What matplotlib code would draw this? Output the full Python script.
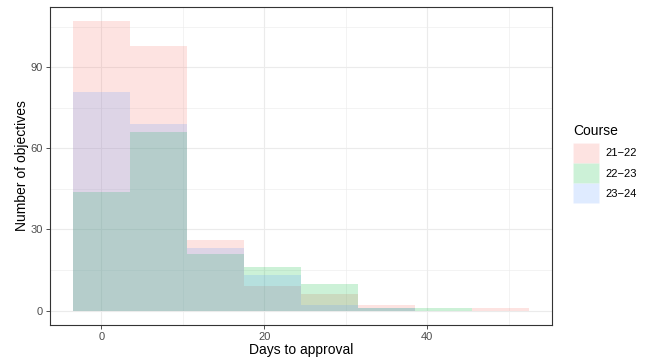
import matplotlib
matplotlib.use("Agg")
import matplotlib.pyplot as plt
from matplotlib.patches import Patch

plt.rcParams["font.family"] = ["Liberation Sans", "DejaVu Sans"]

# histogram bins (days to approval, binwidth 7)
bin_centers = [0, 7, 14, 21, 28, 35, 42, 49]
bin_width = 7

courses = ["21\u221222", "22\u221223", "23\u221224"]
counts = {
    "21\u221222": [107, 98, 26, 9, 6, 2, 0, 1],
    "22\u221223": [44, 66, 21, 16, 10, 1, 1, 0],
    "23\u221224": [81, 69, 23, 13, 2, 1, 0, 0],
}
colors = {"21\u221222": "#F8766D", "22\u221223": "#00BA38", "23\u221224": "#619CFF"}

x_ticks = [0, 20, 40]
x_minor = [10, 30, 50]
y_ticks = [0, 30, 60, 90]
y_minor = [15, 45, 75, 105]

W, H = 645, 362
fig = plt.figure(figsize=(W / 100, H / 100), dpi=100)
ax = fig.add_axes([50 / W, (H - 325) / H, 502 / W, 318 / H])

for c in courses:
    ax.bar(bin_centers, counts[c], width=bin_width, color=colors[c], alpha=0.2,
           linewidth=0, zorder=2)

lo = bin_centers[0] - bin_width / 2
hi = bin_centers[-1] + bin_width / 2
pad = (hi - lo) * 0.05
ax.set_xlim(lo - pad, hi + pad)
ymax = max(max(v) for v in counts.values())
ax.set_ylim(-ymax * 0.05, ymax * 1.05)

ax.set_xticks(x_ticks)
ax.set_yticks(y_ticks)
ax.set_xticks(x_minor, minor=True)
ax.set_yticks(y_minor, minor=True)
ax.grid(which="major", color="#EBEBEB", linewidth=0.8, zorder=0)
ax.grid(which="minor", color="#EBEBEB", linewidth=0.4, zorder=0)
ax.set_axisbelow(True)
ax.tick_params(which="minor", length=0)
ax.tick_params(which="major", length=3, width=0.6, color="#333333",
               labelsize=8, labelcolor="#4D4D4D", pad=2)
for s in ax.spines.values():
    s.set_color("#333333")
    s.set_linewidth(0.8)

ax.set_xlabel("Days to approval", fontsize=10, labelpad=1)
ax.set_ylabel("Number of objectives", fontsize=10, labelpad=1)

# legend: title as separate text so the key spacing matches ggplot
fig.text(573 / W, 1 - 135 / H, "Course", fontsize=10, ha="left", va="baseline")
handles = [Patch(facecolor=colors[c], alpha=0.2, edgecolor="white", linewidth=0.5)
           for c in courses]
leg = fig.legend(handles, courses, loc="upper left",
                 bbox_to_anchor=(573 / W, 1 - 143 / H), frameon=False,
                 fontsize=8, handlelength=2.35, handleheight=2.35,
                 handletextpad=0.6, labelspacing=0.05,
                 borderpad=0, borderaxespad=0)

fig.savefig("out.png", dpi=100)
